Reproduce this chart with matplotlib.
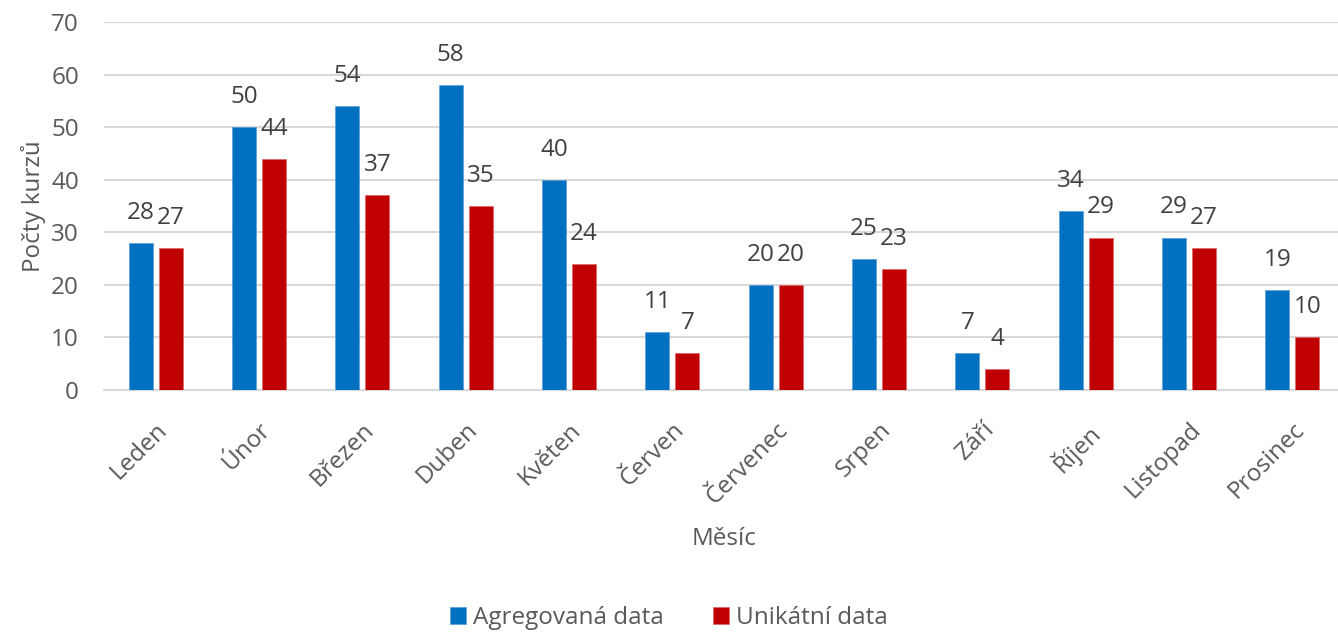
import matplotlib
matplotlib.use('Agg')
import matplotlib.pyplot as plt
import numpy as np

# Data
months = ['Leden', 'Únor', 'Březen', 'Duben', 'Květen', 'Červen',
          'Červenec', 'Srpen', 'Září', 'Říjen', 'Listopad', 'Prosinec']
agregovana = [28, 50, 54, 58, 40, 11, 20, 25, 7, 34, 29, 19]
unikatni = [27, 44, 37, 35, 24, 7, 20, 23, 4, 29, 27, 10]

plt.rcParams['font.family'] = ['Open Sans', 'DejaVu Sans']

blue = '#0070C0'
red = '#C00000'
grey = '#595959'
fs = 17.5

W, H = 1338, 633
fig = plt.figure(figsize=(W / 100, H / 100), dpi=100)
# axes from x=104 to ~1344 px, y=22 to 390 px
ax = fig.add_axes([104 / W, 1 - 390 / H, (1344 - 104) / W, (390 - 22) / H])

x = np.arange(len(months))
w = 0.23
off = 0.145
b1 = ax.bar(x - off, agregovana, w, color=blue, edgecolor='#5B9BD5', linewidth=0.5,
            label='Agregovaná data', zorder=3)
b2 = ax.bar(x + off, unikatni, w, color=red, edgecolor='#E06666', linewidth=0.5,
            label='Unikátní data', zorder=3)

for bars in (b1, b2):
    ax.bar_label(bars, padding=13, fontsize=fs, color='#404040')

ax.set_xlim(-0.5, len(months) - 0.5)
ax.set_ylim(0, 70)
ax.set_yticks(range(0, 71, 10))
ax.yaxis.grid(True, color='#D9D9D9', linewidth=1.5, zorder=0)
ax.set_axisbelow(True)
for s in ['top', 'right', 'left']:
    ax.spines[s].set_visible(False)
ax.spines['bottom'].set_color('#D9D9D9')
ax.spines['bottom'].set_linewidth(1.5)
ax.tick_params(axis='both', length=0, labelsize=fs, colors=grey)
ax.tick_params(axis='y', pad=18)

ax.set_xticks(x)
ax.set_xticklabels(months, rotation=45, ha='right', rotation_mode='anchor')
ax.tick_params(axis='x', pad=20)

ax.set_ylabel('Počty kurzů', fontsize=fs, color=grey)
ax.yaxis.set_label_coords(-0.047, 0.5)
ax.set_xlabel('Měsíc', fontsize=fs, color=grey, labelpad=13)

fig.legend(handles=[b1, b2], loc='lower center', bbox_to_anchor=(0.5, -0.03),
           ncol=2, frameon=False, fontsize=fs, labelcolor=grey,
           handlelength=0.65, handleheight=0.65, handletextpad=0.3, columnspacing=2.0)

fig.savefig('out.png', dpi=100)
